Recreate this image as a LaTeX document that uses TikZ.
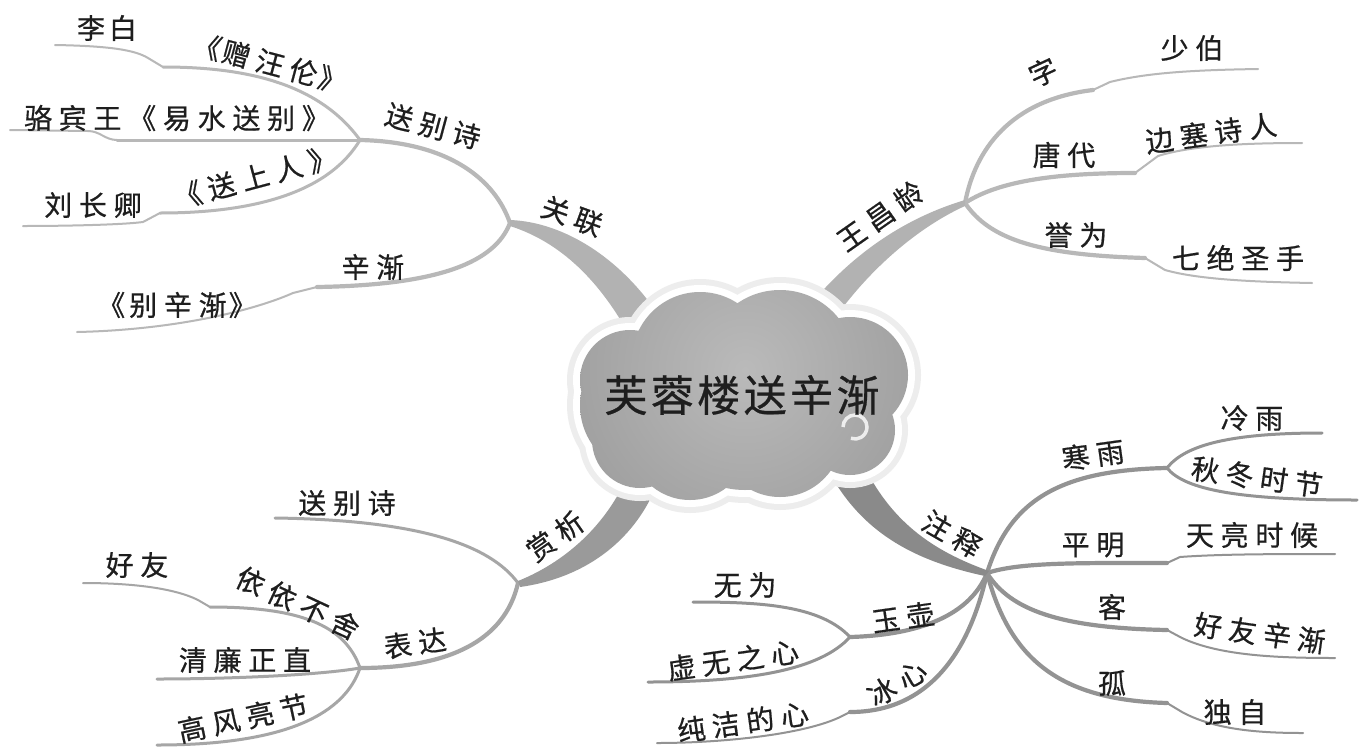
\documentclass[tikz,border=0pt]{standalone}
\usepackage{fontspec}
\newfontfamily\cjk[LetterSpace=24,FakeBold=0.6]{Noto Sans CJK SC}
\newfontfamily\cjkc[LetterSpace=8,FakeBold=0.6]{Noto Sans CJK SC}
\definecolor{txt}{HTML}{1E1E1E}
\definecolor{topln}{HTML}{B8B8B8}
\definecolor{blln}{HTML}{A6A6A6}
\definecolor{brln}{HTML}{939393}
\definecolor{topthick}{HTML}{B2B2B2}
\definecolor{blthick}{HTML}{9A9A9A}
\definecolor{brthick}{HTML}{8A8A8A}
\definecolor{cloudIn}{HTML}{BABABA}
\definecolor{cloudOut}{HTML}{A0A0A0}
\definecolor{halo}{HTML}{EDEDED}
\begin{document}
\begin{tikzpicture}[x=1pt,y=-1pt,
  lbl/.style={font=\cjk\fontsize{28}{30}\selectfont, text=txt, inner sep=0pt},
  ttl/.style={font=\cjkc\fontsize{43}{46}\selectfont, text=txt, inner sep=0pt},
  wide/.style={line width=4.2pt, line cap=round, line join=round},
  mid/.style={line width=3pt, line cap=round, line join=round},
  thin/.style={line width=2pt, line cap=round, line join=round}]
\useasboundingbox (0,0) rectangle (1362,750);
\fill[white] (0,0) rectangle (1362,750);

% ---------- hubs and joints ----------
\coordinate (GL) at (510,223);
\coordinate (SB) at (360,140);
\coordinate (LBs) at (163,67);  \coordinate (LBe) at (55,45);
\coordinate (LWs) at (117,140); \coordinate (LWe) at (10,130);
\coordinate (LCs) at (160,213); \coordinate (LCe) at (23,226);
\coordinate (XJs) at (317,287); \coordinate (XJe) at (77,332);

\coordinate (WC) at (965,203);
\coordinate (ZIs) at (1093,90);  \coordinate (ZIe) at (1258,69);
\coordinate (TDs) at (1135,173); \coordinate (TDe) at (1302,143);
\coordinate (YWs) at (1145,258); \coordinate (YWe) at (1312,283);

\coordinate (SX) at (518,583);
\coordinate (SBe2) at (275,518);
\coordinate (BD) at (360,668);
\coordinate (YYs) at (210,607); \coordinate (YYe) at (83,583);
\coordinate (QLe) at (157,679);
\coordinate (GFe) at (157,745);

\coordinate (ZS) at (987,573);
\coordinate (HY) at (1167,468);
\coordinate (LYe) at (1322,433);
\coordinate (QDe) at (1357,500);
\coordinate (PMs) at (1167,563); \coordinate (PMe) at (1335,554);
\coordinate (KEs) at (1167,630); \coordinate (KEe) at (1335,658);
\coordinate (GUs) at (1167,703); \coordinate (GUe) at (1303,733);
\coordinate (YH) at (850,637);
\coordinate (WWe) at (693,602);
\coordinate (XWe) at (648,682);
\coordinate (BXs) at (850,712);  \coordinate (BXe) at (657,743);

% ---------- thin branches: top left ----------
\begin{scope}[draw=topln]
\draw[wide] (GL) .. controls (495,180) and (450,142) .. (SB);
\draw[mid] (SB) .. controls (320,85) and (250,67) .. (LBs);
\draw[thin] (LBs) -- (148,58) .. controls (135,50) and (110,46) .. (LBe);
\draw[mid] (SB) -- (LWs);
\draw[thin] (LWs) .. controls (105,140) and (100,131) .. (88,131) -- (LWe);
\draw[mid] (SB) .. controls (330,190) and (260,213) .. (LCs);
\draw[thin] (LCs) -- (143,222) .. controls (120,225) and (60,226) .. (LCe);
\draw[wide] (GL) .. controls (495,262) and (440,285) .. (XJs);
\draw[thin] (XJs) -- (293,293) .. controls (250,312) and (170,330) .. (XJe);
% top right
\draw[wide] (WC) .. controls (975,150) and (1010,100) .. (ZIs);
\draw[thin] (ZIs) -- (1110,82) .. controls (1150,72) and (1200,70) .. (ZIe);
\draw[wide] (WC) .. controls (1000,180) and (1060,173) .. (TDs);
\draw[thin] (TDs) -- (1158,156) .. controls (1190,146) and (1240,143) .. (TDe);
\draw[wide] (WC) .. controls (990,240) and (1040,255) .. (YWs);
\draw[thin] (YWs) -- (1165,270) .. controls (1200,280) and (1260,282) .. (YWe);
\end{scope}

% ---------- bottom left ----------
\begin{scope}[draw=blln]
\draw[mid] (SX) .. controls (490,545) and (420,520) .. (SBe2);
\draw[wide] (SX) .. controls (505,640) and (450,668) .. (BD);
\draw[mid] (BD) .. controls (345,625) and (300,607) .. (YYs);
\draw[thin] (YYs) -- (198,600) .. controls (170,586) and (120,583) .. (YYe);
\draw[mid] (BD) .. controls (320,675) and (230,679) .. (QLe);
\draw[mid] (BD) .. controls (345,712) and (290,745) .. (GFe);
\end{scope}

% ---------- bottom right ----------
\begin{scope}[draw=brln]
\draw[wide] (ZS) .. controls (1010,500) and (1060,470) .. (HY);
\draw[mid] (HY) .. controls (1185,445) and (1230,433) .. (LYe);
\draw[mid] (HY) .. controls (1185,490) and (1240,500) .. (QDe);
\draw[wide] (ZS) .. controls (1020,562) and (1080,563) .. (PMs);
\draw[thin] (PMs) -- (1180,557) .. controls (1220,554) and (1280,554) .. (PMe);
\draw[wide] (ZS) .. controls (1010,610) and (1060,628) .. (KEs);
\draw[thin] (KEs) -- (1182,638) .. controls (1220,656) and (1280,658) .. (KEe);
\draw[wide] (ZS) .. controls (1010,660) and (1060,700) .. (GUs);
\draw[thin] (GUs) -- (1182,712) .. controls (1215,730) and (1260,733) .. (GUe);
\draw[wide] (ZS) .. controls (970,615) and (920,635) .. (YH);
\draw[mid] (YH) .. controls (820,605) and (760,602) .. (WWe);
\draw[mid] (YH) .. controls (820,670) and (750,682) .. (XWe);
\draw[wide] (ZS) .. controls (970,650) and (930,712) .. (BXs);
\draw[thin] (BXs) -- (838,718) .. controls (800,735) and (720,743) .. (BXe);
\end{scope}

% ---------- thick tapered branches ----------
\fill[topthick] (GL) ++(0,-3) .. controls (565,222) and (625,260) .. (665,325)
   -- (632,340) .. controls (600,280) and (560,242) .. (510,226) -- cycle;
\fill[topthick] (965,200) .. controls (915,215) and (860,245) .. (810,305)
   -- (835,318) .. controls (875,262) and (925,224) .. (965,206) -- cycle;
\fill[blthick] (518,581) .. controls (570,560) and (610,520) .. (630,470)
   -- (662,470) .. controls (643,533) and (592,577) .. (520,587) -- cycle;
\fill[brthick] (828,470) .. controls (860,530) and (910,560) .. (985,576)
   -- (989,571) .. controls (930,550) and (890,520) .. (862,462) -- cycle;

% ---------- cloud ----------
\foreach \cx/\cy/\r in {650/405/70,700/360/68,780/365/75,850/375/58,690/440/60,780/435/62,850/430/45,630/380/50,640/440/48,745/400/90}
  \fill[halo] (\cx,\cy) circle[radius=\r+13];
\foreach \cx/\cy/\r in {650/405/70,700/360/68,780/365/75,850/375/58,690/440/60,780/435/62,850/430/45,630/380/50,640/440/48,745/400/90}
  \fill[white] (\cx,\cy) circle[radius=\r+7];
\begin{scope}
\clip (650,405) circle[radius=70] (700,360) circle[radius=68] (780,365) circle[radius=75]
      (850,375) circle[radius=58] (690,440) circle[radius=60] (780,435) circle[radius=62]
      (850,430) circle[radius=45] (630,380) circle[radius=50] (640,440) circle[radius=48]
      (745,400) circle[radius=90];
\shade[inner color=cloudIn, outer color=cloudOut] (745,370) circle[radius=180];
\end{scope}
\draw[white, line width=3.5pt, opacity=.8] (843,427) arc[start angle=180, end angle=470, radius=12];
\node[ttl] (center) at (742,395) {芙蓉楼送辛渐};

% ---------- labels ----------
\node[lbl, rotate=-20] (guanlian) at (572,216) {关联};
\node[lbl, rotate=-15] (songbie) at (433,126) {送别诗};
\node[lbl] (libai) at (107,28) {李\hspace{4pt}白};
\node[lbl, rotate=-15] (zengwl) at (270,63) {《\hspace{2pt}赠汪伦\hspace{2pt}》};
\node[lbl] (luobw) at (177,118) {骆宾王《易水送别》};
\node[lbl] (liucq) at (93,205) {刘长卿};
\node[lbl, rotate=15] (songsr) at (255,177) {《送上人》};
\node[lbl] (xinjian) at (373,267) {辛渐};
\node[lbl] (biexj) at (177,305) {《\hspace{4pt}别辛渐\hspace{2pt}》};

\node[lbl, rotate=35] (wangcl) at (880,216) {王昌龄};
\node[lbl, rotate=25] (zi) at (1043,72) {字};
\node[lbl] (shaobo) at (1192,48) {少伯};
\node[lbl] (tangdai) at (1064,155) {唐代};
\node[lbl, rotate=8] (biansai) at (1211,133) {边塞诗人};
\node[lbl] (yuwei) at (1076,235) {誉为};
\node[lbl] (qijue) at (1238,258) {七绝圣手};

\node[lbl, rotate=35] (shangxi) at (555,536) {赏析};
\node[lbl] (songbie2) at (347,503) {送别诗};
\node[lbl, rotate=8] (biaoda) at (415,643) {表达};
\node[lbl] (haoyou) at (137,565) {好友};
\node[lbl, rotate=-25] (yiyi) at (298,603) {依依不舍};
\node[lbl] (qinglian) at (245,660) {清廉正直};
\node[lbl, rotate=12] (gaofeng) at (243,718) {高风亮节};

\node[lbl, rotate=-30] (zhushi) at (952,534) {注释};
\node[lbl, rotate=8] (hanyu) at (1093,455) {寒雨};
\node[lbl] (lengyu) at (1252,418) {冷雨};
\node[lbl, rotate=-8] (qiudong) at (1257,477) {秋冬时节};
\node[lbl] (pingming) at (1093,545) {平明};
\node[lbl] (tianliang) at (1252,535) {天亮时候};
\node[lbl] (ke) at (1112,607) {客};
\node[lbl, rotate=-8] (haoyouxj) at (1260,633) {好友辛渐};
\node[lbl] (gu) at (1112,683) {孤};
\node[lbl] (duzi) at (1235,712) {独自};
\node[lbl, rotate=8] (yuhu) at (903,617) {玉壶};
\node[lbl] (wuwei) at (745,585) {无为};
\node[lbl, rotate=8] (xuwu) at (733,660) {虚无之心};
\node[lbl, rotate=30] (bingxin) at (897,683) {冰心};
\node[lbl, rotate=8] (chunjie) at (743,722) {纯洁的心};
\end{tikzpicture}
\end{document}
